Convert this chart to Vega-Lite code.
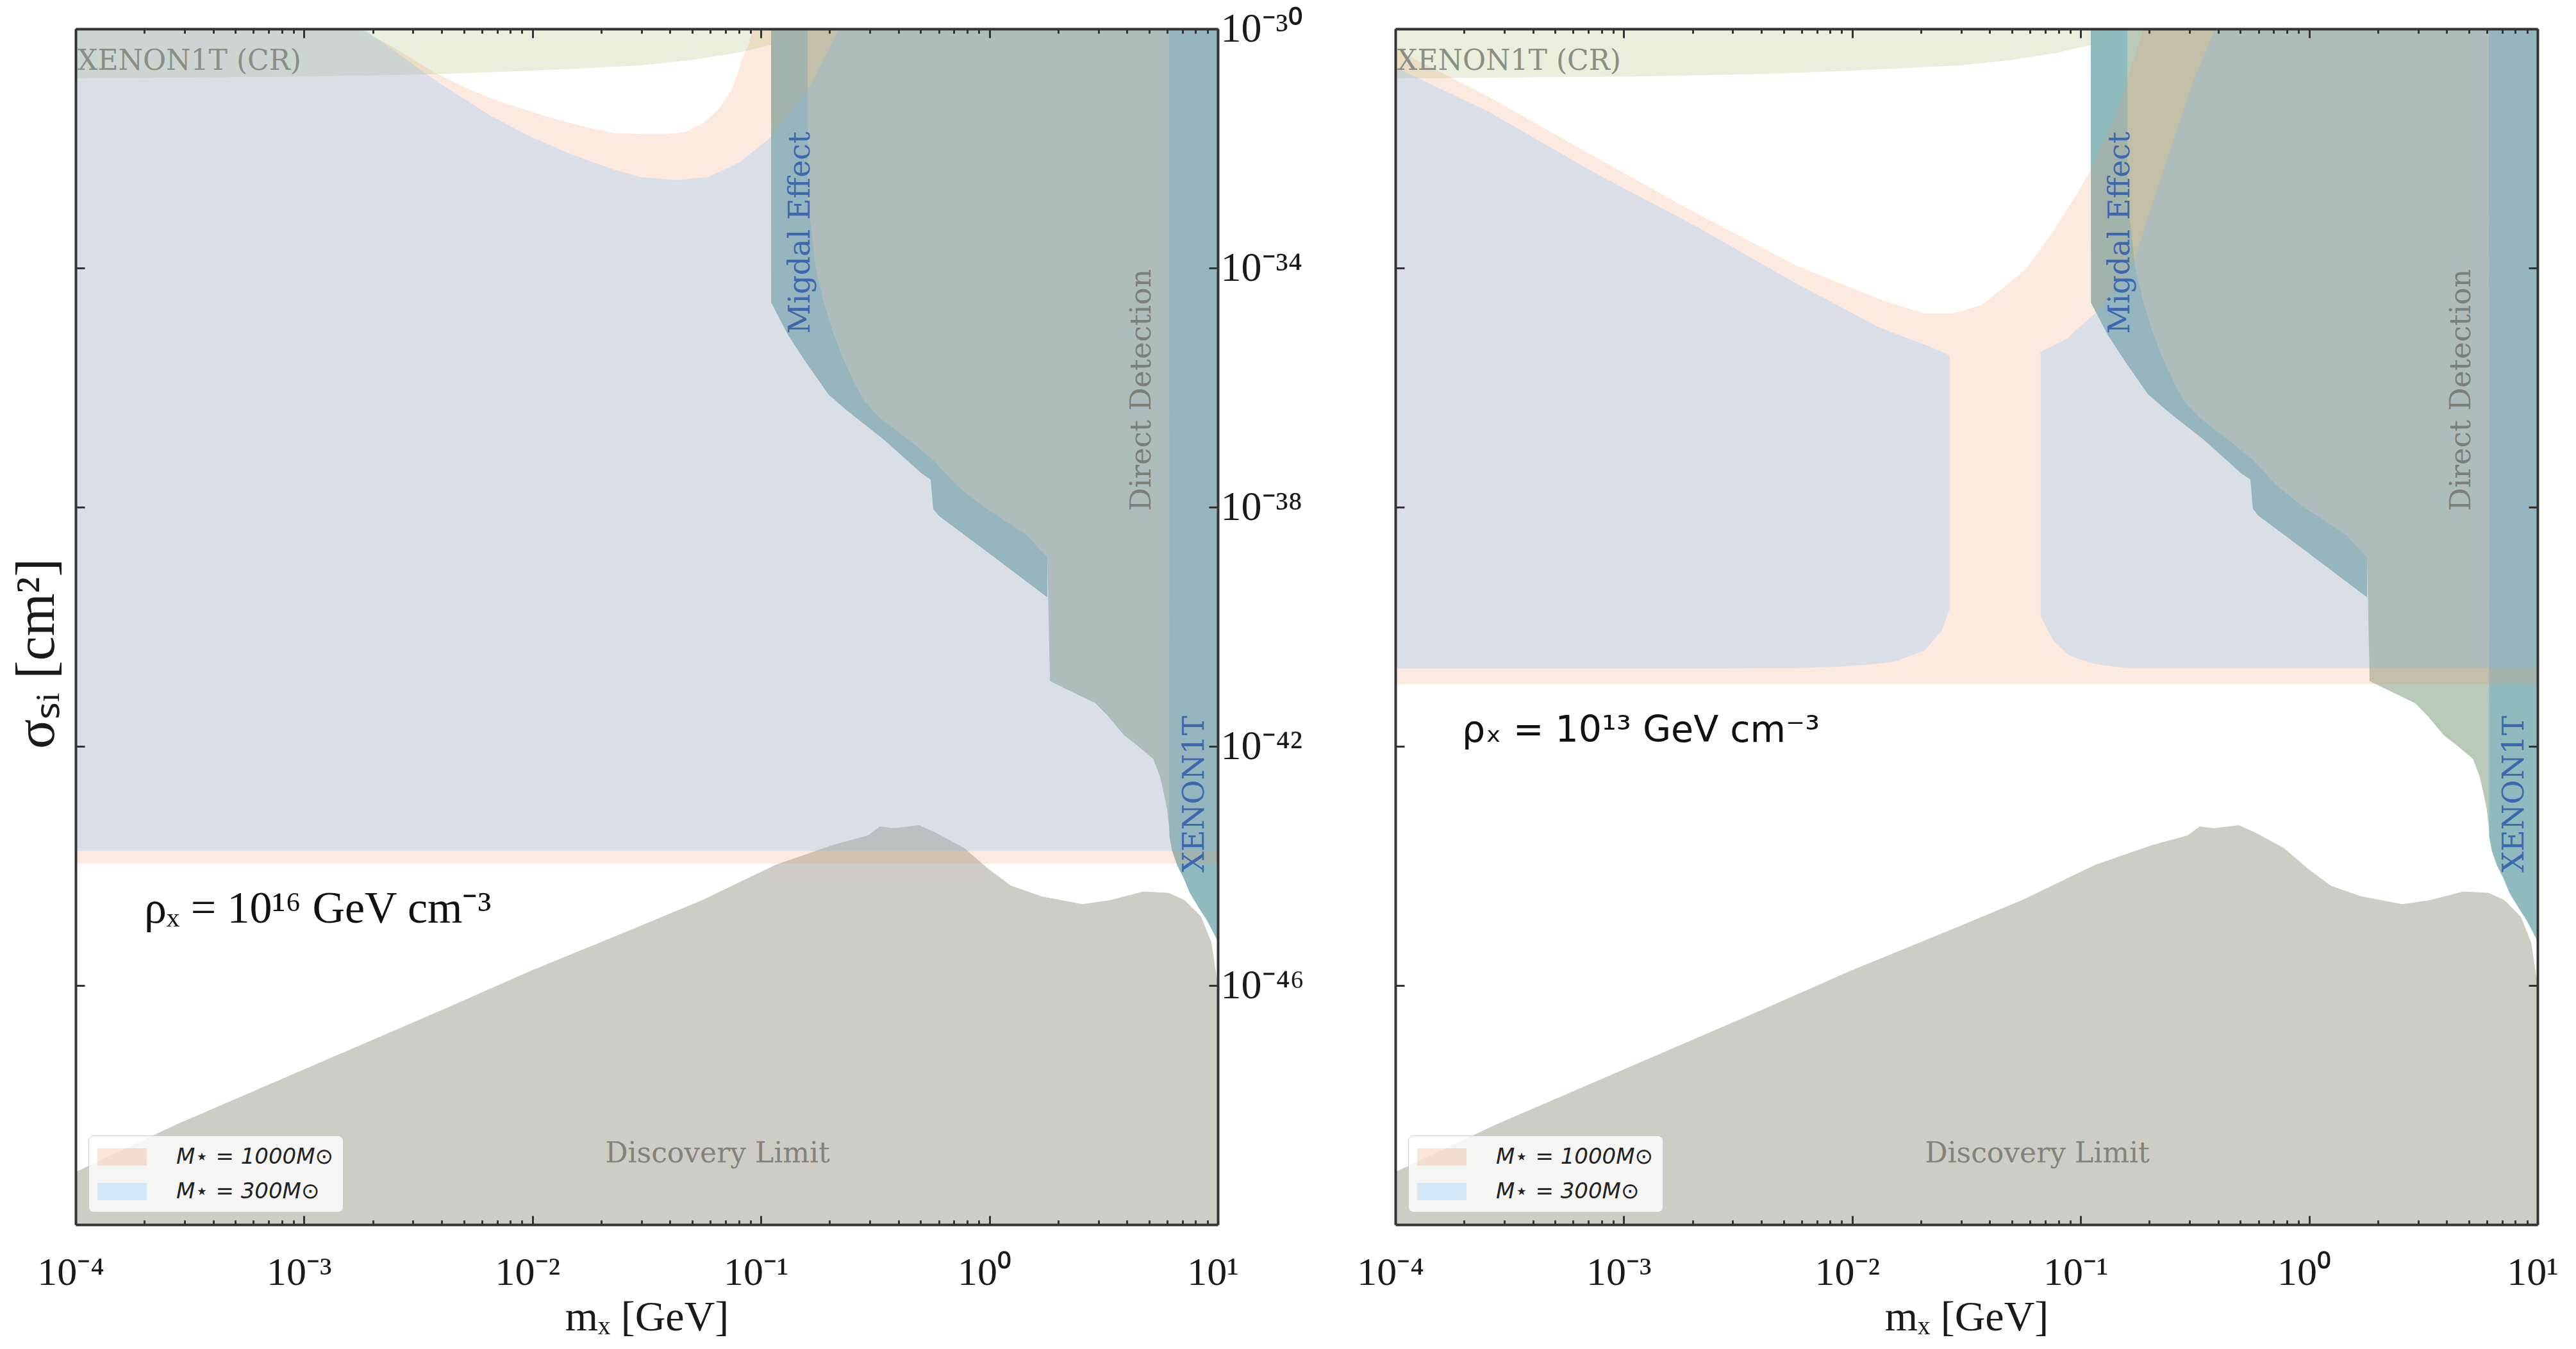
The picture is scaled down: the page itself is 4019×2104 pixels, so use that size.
{
  "$schema": "https://vega.github.io/schema/vega-lite/v6.json",
  "background": "white",
  "padding": {"left": 14, "top": 13, "right": 5, "bottom": 5},
  "bounds": "flush",
  "spacing": 277,
  "config": {
    "view": {"stroke": null},
    "axis": {"grid": false, "domainColor": "#333333", "domainWidth": 4, "tickColor": "#333333", "tickWidth": 3, "labelFont": "Liberation Serif", "labelFontSize": 62, "labelColor": "#1a1a1a", "titleFont": "Liberation Serif", "titleFontSize": 66, "titleFontWeight": "normal", "titleColor": "#1a1a1a", "labelFlush": false, "labelOverlap": false, "labelBound": false},
    "legend": {"orient": "bottom-left", "offset": 20, "padding": 14, "fillColor": "rgba(255,255,255,0.8)", "strokeColor": "#cccccc", "cornerRadius": 8, "labelFont": "DejaVu Sans", "labelFontSize": 34, "labelFontStyle": "italic", "labelColor": "#222222", "labelLimit": 500, "symbolType": "M-2,-0.7L2,-0.7L2,0.7L-2,0.7Z", "symbolSize": 1482, "symbolOffset": 19, "symbolStrokeWidth": 0, "symbolOpacity": 0.25, "rowPadding": 17, "labelOffset": 65}
  },
  "datasets": {
    "cr": [
      {"m": 0.0001, "top": 1e-30, "bottom": 1.479e-31},
      {"m": 0.001, "top": 1e-30, "bottom": 1.585e-31},
      {"m": 0.003681, "top": 1e-30, "bottom": 1.738e-31},
      {"m": 0.01, "top": 1e-30, "bottom": 1.995e-31},
      {"m": 0.02985, "top": 1e-30, "bottom": 2.455e-31},
      {"m": 0.0501, "top": 1e-30, "bottom": 3.02e-31},
      {"m": 0.07907, "top": 1e-30, "bottom": 3.98e-31},
      {"m": 0.1107, "top": 1e-30, "bottom": 5.37e-31},
      {"m": 0.1259, "top": 1e-30, "bottom": 6.03e-31}
    ],
    "discovery": [
      {"m": 0.0001, "top": 7.586e-50, "bottom": 1e-50},
      {"m": 0.0002742, "top": 4.677e-49, "bottom": 1e-50},
      {"m": 0.001549, "top": 8.128e-48, "bottom": 1e-50},
      {"m": 0.004355, "top": 4.467e-47, "bottom": 1e-50},
      {"m": 0.009886, "top": 1.778e-46, "bottom": 1e-50},
      {"m": 0.02985, "top": 1e-45, "bottom": 1e-50},
      {"m": 0.05546, "top": 2.692e-45, "bottom": 1e-50},
      {"m": 0.1159, "top": 1.047e-44, "bottom": 1e-50},
      {"m": 0.207, "top": 2.239e-44, "bottom": 1e-50},
      {"m": 0.2938, "top": 3.236e-44, "bottom": 1e-50},
      {"m": 0.3319, "top": 4.571e-44, "bottom": 1e-50},
      {"m": 0.3828, "top": 4.266e-44, "bottom": 1e-50},
      {"m": 0.492, "top": 4.786e-44, "bottom": 1e-50},
      {"m": 0.5794, "top": 3.631e-44, "bottom": 1e-50},
      {"m": 0.7745, "top": 1.995e-44, "bottom": 1e-50},
      {"m": 0.9908, "top": 8.913e-45, "bottom": 1e-50},
      {"m": 1.242, "top": 4.677e-45, "bottom": 1e-50},
      {"m": 1.69, "top": 3.09e-45, "bottom": 1e-50},
      {"m": 2.559, "top": 2.291e-45, "bottom": 1e-50},
      {"m": 3.396, "top": 2.692e-45, "bottom": 1e-50},
      {"m": 4.721, "top": 3.715e-45, "bottom": 1e-50},
      {"m": 6.081, "top": 3.548e-45, "bottom": 1e-50},
      {"m": 7.145, "top": 2.692e-45, "bottom": 1e-50},
      {"m": 8.453, "top": 1.413e-45, "bottom": 1e-50},
      {"m": 9.376, "top": 5.248e-46, "bottom": 1e-50},
      {"m": 9.863, "top": 1.479e-46, "bottom": 1e-50},
      {"m": 10, "top": 1.202e-46, "bottom": 1e-50}
    ],
    "migdal": [
      {"m": 0.1107, "top": 1e-30, "bottom": 1e-30},
      {"m": 0.1109, "top": 1e-30, "bottom": 2.63e-35},
      {"m": 0.1318, "top": 1e-30, "bottom": 7.413e-36},
      {"m": 0.157, "top": 1e-30, "bottom": 2.692e-36},
      {"m": 0.1968, "top": 1e-30, "bottom": 7.762e-37},
      {"m": 0.2388, "top": 1e-30, "bottom": 4.074e-37},
      {"m": 0.3475, "top": 1e-30, "bottom": 1.318e-37},
      {"m": 0.5023, "top": 1e-30, "bottom": 3.715e-38},
      {"m": 0.5534, "top": 1e-30, "bottom": 2.884e-38},
      {"m": 0.5675, "top": 1e-30, "bottom": 9.333e-39},
      {"m": 0.5984, "top": 1e-30, "bottom": 7.244e-39},
      {"m": 0.9333, "top": 1e-30, "bottom": 2.042e-39},
      {"m": 1.795, "top": 1e-30, "bottom": 3.09e-40}
    ],
    "dd": [
      {"m": 0.16, "top": 1e-30, "bottom": 1e-30},
      {"m": 0.1603, "top": 1e-30, "bottom": 1e-33},
      {"m": 0.1652, "top": 1e-30, "bottom": 5.37e-34},
      {"m": 0.173, "top": 1e-30, "bottom": 1.047e-34},
      {"m": 0.1871, "top": 1e-30, "bottom": 2.951e-35},
      {"m": 0.2061, "top": 1e-30, "bottom": 8.511e-36},
      {"m": 0.2286, "top": 1e-30, "bottom": 3.09e-36},
      {"m": 0.2582, "top": 1e-30, "bottom": 1.122e-36},
      {"m": 0.2844, "top": 1e-30, "bottom": 5.888e-37},
      {"m": 0.3304, "top": 1e-30, "bottom": 3.162e-37},
      {"m": 0.4446, "top": 1e-30, "bottom": 1.318e-37},
      {"m": 0.5675, "top": 1e-30, "bottom": 6.166e-38},
      {"m": 0.7261, "top": 1e-30, "bottom": 2.239e-38},
      {"m": 0.9333, "top": 1e-30, "bottom": 1.047e-38},
      {"m": 1.194, "top": 1e-30, "bottom": 5.623e-39},
      {"m": 1.459, "top": 1e-30, "bottom": 3.388e-39},
      {"m": 1.795, "top": 1e-30, "bottom": 1.413e-39},
      {"m": 1.841, "top": 1e-30, "bottom": 1.23e-41},
      {"m": 2.133, "top": 1e-30, "bottom": 9.333e-42},
      {"m": 2.541, "top": 1e-30, "bottom": 6.761e-42},
      {"m": 2.911, "top": 1e-30, "bottom": 5.248e-42},
      {"m": 3.334, "top": 1e-30, "bottom": 3.09e-42},
      {"m": 3.873, "top": 1e-30, "bottom": 1.549e-42},
      {"m": 4.487, "top": 1e-30, "bottom": 1e-42},
      {"m": 5.212, "top": 1e-30, "bottom": 6.166e-43},
      {"m": 5.585, "top": 1e-30, "bottom": 3.09e-43},
      {"m": 5.888, "top": 1e-30, "bottom": 1.259e-43},
      {"m": 5.998, "top": 1e-30, "bottom": 8.71e-44},
      {"m": 6.166, "top": 1e-30, "bottom": 3.467e-44}
    ],
    "xenon": [
      {"m": 6.124, "top": 1e-30, "bottom": 1e-30},
      {"m": 6.138, "top": 1e-30, "bottom": 3.162e-44},
      {"m": 6.31, "top": 1e-30, "bottom": 1.778e-44},
      {"m": 6.653, "top": 1e-30, "bottom": 1e-44},
      {"m": 7.079, "top": 1e-30, "bottom": 6.31e-45},
      {"m": 7.534, "top": 1e-30, "bottom": 3.548e-45},
      {"m": 8.318, "top": 1e-30, "bottom": 1.905e-45},
      {"m": 8.954, "top": 1e-30, "bottom": 1.23e-45},
      {"m": 10, "top": 1e-30, "bottom": 5.495e-46}
    ],
    "left_1000": [
      {"m": 0.0001, "top": 1e-30, "bottom": 1.096e-44},
      {"m": 0.00175, "top": 1e-30, "bottom": 1.096e-44},
      {"m": 0.002512, "top": 4.677e-31, "bottom": 1.096e-44},
      {"m": 0.003681, "top": 1.905e-31, "bottom": 1.096e-44},
      {"m": 0.005012, "top": 1.072e-31, "bottom": 1.096e-44},
      {"m": 0.006531, "top": 6.918e-32, "bottom": 1.096e-44},
      {"m": 0.008913, "top": 4.677e-32, "bottom": 1.096e-44},
      {"m": 0.01216, "top": 3.236e-32, "bottom": 1.096e-44},
      {"m": 0.0166, "top": 2.344e-32, "bottom": 1.096e-44},
      {"m": 0.02259, "top": 1.82e-32, "bottom": 1.096e-44},
      {"m": 0.02985, "top": 1.738e-32, "bottom": 1.096e-44},
      {"m": 0.03917, "top": 1.738e-32, "bottom": 1.096e-44},
      {"m": 0.04688, "top": 1.905e-32, "bottom": 1.096e-44},
      {"m": 0.05623, "top": 2.692e-32, "bottom": 1.096e-44},
      {"m": 0.06607, "top": 4.786e-32, "bottom": 1.096e-44},
      {"m": 0.07379, "top": 9.12e-32, "bottom": 1.096e-44},
      {"m": 0.07907, "top": 1.778e-31, "bottom": 1.096e-44},
      {"m": 0.08279, "top": 3.162e-31, "bottom": 1.096e-44},
      {"m": 0.08831, "top": 5.495e-31, "bottom": 1.096e-44},
      {"m": 0.09247, "top": 1e-30, "bottom": 1.096e-44},
      {"m": 10, "top": 1e-30, "bottom": 1.096e-44}
    ],
    "left_300": [
      {"m": 0.0001, "top": 1e-30, "bottom": 1.778e-44},
      {"m": 0.00182, "top": 1e-30, "bottom": 1.778e-44},
      {"m": 0.002512, "top": 4.169e-31, "bottom": 1.778e-44},
      {"m": 0.003681, "top": 1.445e-31, "bottom": 1.778e-44},
      {"m": 0.005012, "top": 6.761e-32, "bottom": 1.778e-44},
      {"m": 0.006531, "top": 3.548e-32, "bottom": 1.778e-44},
      {"m": 0.009886, "top": 1.549e-32, "bottom": 1.778e-44},
      {"m": 0.0138, "top": 8.913e-33, "bottom": 1.778e-44},
      {"m": 0.01837, "top": 5.888e-33, "bottom": 1.778e-44},
      {"m": 0.02259, "top": 4.467e-33, "bottom": 1.778e-44},
      {"m": 0.02985, "top": 3.311e-33, "bottom": 1.778e-44},
      {"m": 0.04285, "top": 2.951e-33, "bottom": 1.778e-44},
      {"m": 0.05875, "top": 3.311e-33, "bottom": 1.778e-44},
      {"m": 0.08072, "top": 5.888e-33, "bottom": 1.778e-44},
      {"m": 0.1107, "top": 1.549e-32, "bottom": 1.778e-44},
      {"m": 0.16, "top": 9.12e-32, "bottom": 1.778e-44},
      {"m": 0.2198, "top": 1e-30, "bottom": 1.778e-44},
      {"m": 10, "top": 1e-30, "bottom": 1.778e-44}
    ],
    "right_1000": [
      {"m": 0.0001, "top": 4.571e-31, "bottom": 1.096e-41},
      {"m": 0.000257, "top": 7.244e-32, "bottom": 1.096e-41},
      {"m": 0.0007228, "top": 7.762e-33, "bottom": 1.096e-41},
      {"m": 0.002018, "top": 8.71e-34, "bottom": 1.096e-41},
      {"m": 0.005689, "top": 1.096e-34, "bottom": 1.096e-41},
      {"m": 0.01291, "top": 3.09e-35, "bottom": 1.096e-41},
      {"m": 0.0166, "top": 2.239e-35, "bottom": 1.096e-41},
      {"m": 0.0207, "top": 1.738e-35, "bottom": 1.096e-41},
      {"m": 0.02754, "top": 1.738e-35, "bottom": 1.096e-41},
      {"m": 0.03681, "top": 2.399e-35, "bottom": 1.096e-41},
      {"m": 0.04732, "top": 5.129e-35, "bottom": 1.096e-41},
      {"m": 0.05754, "top": 9.55e-35, "bottom": 1.096e-41},
      {"m": 0.07211, "top": 3.09e-34, "bottom": 1.096e-41},
      {"m": 0.09528, "top": 1.622e-33, "bottom": 1.096e-41},
      {"m": 0.1096, "top": 4.169e-33, "bottom": 1.096e-41},
      {"m": 0.1422, "top": 3.548e-32, "bottom": 1.096e-41},
      {"m": 0.1888, "top": 1e-30, "bottom": 1.096e-41},
      {"m": 10, "top": 1e-30, "bottom": 1.096e-41}
    ],
    "right_300": [
      {"piece": "A", "m": 0.0001, "top": 2.291e-31, "bottom": 1.995e-41},
      {"piece": "A", "m": 0.000257, "top": 4.074e-32, "bottom": 1.995e-41},
      {"piece": "A", "m": 0.0007228, "top": 4.169e-33, "bottom": 1.995e-41},
      {"piece": "A", "m": 0.002018, "top": 5.248e-34, "bottom": 1.995e-41},
      {"piece": "A", "m": 0.005689, "top": 5.495e-35, "bottom": 2.042e-41},
      {"piece": "A", "m": 0.00871, "top": 2.344e-35, "bottom": 2.138e-41},
      {"piece": "A", "m": 0.01291, "top": 1.047e-35, "bottom": 2.399e-41},
      {"piece": "A", "m": 0.01549, "top": 7.943e-36, "bottom": 2.63e-41},
      {"piece": "A", "m": 0.0207, "top": 5.248e-36, "bottom": 3.981e-41},
      {"piece": "A", "m": 0.02466, "top": 3.981e-36, "bottom": 8.71e-41},
      {"piece": "A", "m": 0.02667, "top": 3.467e-36, "bottom": 1.95e-40},
      {"piece": "B", "m": 0.06668, "top": 3.981e-36, "bottom": 1.514e-40},
      {"piece": "B", "m": 0.07586, "top": 5.012e-36, "bottom": 5.888e-41},
      {"piece": "B", "m": 0.0875, "top": 6.607e-36, "bottom": 3.467e-41},
      {"piece": "B", "m": 0.09528, "top": 9.12e-36, "bottom": 3.02e-41},
      {"piece": "B", "m": 0.114, "top": 1.66e-35, "bottom": 2.399e-41},
      {"piece": "B", "m": 0.1422, "top": 4.571e-35, "bottom": 2.138e-41},
      {"piece": "B", "m": 0.1596, "top": 7.762e-35, "bottom": 2.042e-41},
      {"piece": "B", "m": 0.1738, "top": 1.549e-34, "bottom": 2.042e-41},
      {"piece": "B", "m": 0.2382, "top": 6.31e-33, "bottom": 2.042e-41},
      {"piece": "B", "m": 0.309, "top": 1.23e-31, "bottom": 2.042e-41},
      {"piece": "B", "m": 0.3873, "top": 1e-30, "bottom": 2.042e-41},
      {"piece": "B", "m": 10, "top": 1e-30, "bottom": 2.042e-41}
    ],
    "notes": [
      {"label": "XENON1T (CR)", "m": 0.000102, "sigma": 2.818e-31},
      {"label": "Migdal Effect", "m": 0.1493, "sigma": 3.89e-34},
      {"label": "Direct Detection", "m": 4.624, "sigma": 9.12e-37},
      {"label": "XENON1T", "m": 7.943, "sigma": 1.585e-43},
      {"label": "Discovery Limit", "m": 0.06457, "sigma": 1.514e-49}
    ],
    "rho_left": [{"label": "ρₓ = 10¹⁶ GeV cm⁻³", "m": 0.0001995, "sigma": 1.905e-45}],
    "rho_right": [{"label": "ρₓ = 10¹³ GeV cm⁻³", "m": 0.0001959, "sigma": 1.82e-42}]
  },
  "hconcat": [
    {
      "width": 1782,
      "height": 1865,
      "resolve": {"axis": {"x": "independent", "y": "independent"}},
      "layer": [
        {
          "data": {"name": "cr"},
          "mark": {"type": "area", "color": "#e9efdc"},
          "encoding": {
            "x": {"field": "m", "type": "quantitative", "scale": {"type": "log", "domain": [0.0001, 10], "nice": false},
              "axis": {"orient": "bottom", "zindex": 1, "values": [0.0001,0.0002,0.0003,0.0004,0.0005,0.0006,0.0007,0.0008,0.0009,0.001,0.002,0.003,0.004,0.005,0.006,0.007,0.008,0.009,0.01,0.02,0.03,0.04,0.05,0.06,0.07,0.08,0.09,0.1,0.2,0.3,0.4,0.5,0.6,0.7,0.8,0.9,1,2,3,4,5,6,7,8,9,10],
                "labelExpr": "datum.value == 0.0001 ? '10⁻⁴' : datum.value == 0.001 ? '10⁻³' : datum.value == 0.01 ? '10⁻²' : datum.value == 0.1 ? '10⁻¹' : datum.value == 1 ? '10⁰' : datum.value == 10 ? '10¹' : ''",
                "tickSize": {"condition": {"test": "indexof([0.0001,0.001,0.01,0.1,1,10], datum.value) >= 0", "value": -14}, "value": -7},
                "labelPadding": 58, "labelOffset": -8, "title": "mₓ [GeV]", "titlePadding": 0}},
            "y": {"field": "top", "type": "quantitative", "scale": {"type": "log", "domain": [1e-50, 1e-30], "nice": false},
              "axis": {"orient": "left", "zindex": 1, "values": [1e-30, 1e-34, 1e-38, 1e-42, 1e-46], "tickSize": -14, "labels": false, "title": "σₛᵢ [cm²]", "titleFontSize": 86, "titlePadding": 15, "titleY": 974}},
            "y2": {"field": "bottom"}
          }
        },
        {
          "data": {"name": "discovery"},
          "mark": {"type": "area", "color": "#cdcdc5"},
          "encoding": {
            "x": {"field": "m", "type": "quantitative", "scale": {"type": "log", "domain": [0.0001, 10], "nice": false},
              "axis": {"orient": "top", "zindex": 1, "values": [0.0001,0.0002,0.0003,0.0004,0.0005,0.0006,0.0007,0.0008,0.0009,0.001,0.002,0.003,0.004,0.005,0.006,0.007,0.008,0.009,0.01,0.02,0.03,0.04,0.05,0.06,0.07,0.08,0.09,0.1,0.2,0.3,0.4,0.5,0.6,0.7,0.8,0.9,1,2,3,4,5,6,7,8,9,10],
                "labels": false,
                "tickSize": {"condition": {"test": "indexof([0.0001,0.001,0.01,0.1,1,10], datum.value) >= 0", "value": -14}, "value": -7},
                "title": null}},
            "y": {"field": "top", "type": "quantitative", "scale": {"type": "log", "domain": [1e-50, 1e-30], "nice": false},
              "axis": {"orient": "right", "zindex": 1, "values": [1e-30, 1e-34, 1e-38, 1e-42, 1e-46], "tickSize": -14, "labelPadding": 18, "labelFontSize": 64,
                "labelExpr": "datum.value == 1e-30 ? '10⁻³⁰' : datum.value == 1e-34 ? '10⁻³⁴' : datum.value == 1e-38 ? '10⁻³⁸' : datum.value == 1e-42 ? '10⁻⁴²' : '10⁻⁴⁶'",
                "title": null}},
            "y2": {"field": "bottom"}
          }
        },
        {
          "data": {"name": "migdal"},
          "mark": {"type": "area", "color": "#8fbbbf"},
          "encoding": {
            "x": {"field": "m", "type": "quantitative", "scale": {"type": "log", "domain": [0.0001, 10], "nice": false}, "axis": null},
            "y": {"field": "top", "type": "quantitative", "scale": {"type": "log", "domain": [1e-50, 1e-30], "nice": false}, "axis": null},
            "y2": {"field": "bottom"}
          }
        },
        {
          "data": {"name": "dd"},
          "mark": {"type": "area", "color": "#b8c9b8"},
          "encoding": {
            "x": {"field": "m", "type": "quantitative", "scale": {"type": "log", "domain": [0.0001, 10], "nice": false}, "axis": null},
            "y": {"field": "top", "type": "quantitative", "scale": {"type": "log", "domain": [1e-50, 1e-30], "nice": false}, "axis": null},
            "y2": {"field": "bottom"}
          }
        },
        {
          "data": {"name": "xenon"},
          "mark": {"type": "area", "color": "#8fbbbf"},
          "encoding": {
            "x": {"field": "m", "type": "quantitative", "scale": {"type": "log", "domain": [0.0001, 10], "nice": false}, "axis": null},
            "y": {"field": "top", "type": "quantitative", "scale": {"type": "log", "domain": [1e-50, 1e-30], "nice": false}, "axis": null},
            "y2": {"field": "bottom"}
          }
        },
        {
          "data": {"name": "left_1000"},
          "mark": {"type": "area", "opacity": 0.2},
          "encoding": {
            "x": {"field": "m", "type": "quantitative", "scale": {"type": "log", "domain": [0.0001, 10], "nice": false}, "axis": null},
            "y": {"field": "top", "type": "quantitative", "scale": {"type": "log", "domain": [1e-50, 1e-30], "nice": false}, "axis": null},
            "y2": {"field": "bottom"},
            "color": {"datum": "M⋆ = 1000M⊙", "type": "nominal", "scale": {"domain": ["M⋆ = 1000M⊙", "M⋆ = 300M⊙"], "range": ["#f09664", "#6bbeff"]}, "legend": {"title": null}}
          }
        },
        {
          "data": {"name": "left_300"},
          "mark": {"type": "area", "opacity": 0.228},
          "encoding": {
            "x": {"field": "m", "type": "quantitative", "scale": {"type": "log", "domain": [0.0001, 10], "nice": false}, "axis": null},
            "y": {"field": "top", "type": "quantitative", "scale": {"type": "log", "domain": [1e-50, 1e-30], "nice": false}, "axis": null},
            "y2": {"field": "bottom"},
            "color": {"datum": "M⋆ = 300M⊙", "type": "nominal"}
          }
        },
        {
          "data": {"name": "notes"},
          "transform": [{"filter": "datum.label == 'XENON1T (CR)'"}],
          "mark": {"type": "text", "font": "DejaVu Serif", "fontSize": 44, "color": "#8a8f84", "align": "left", "baseline": "middle"},
          "encoding": {
            "x": {"field": "m", "type": "quantitative", "scale": {"type": "log", "domain": [0.0001, 10], "nice": false}, "axis": null},
            "y": {"field": "sigma", "type": "quantitative", "scale": {"type": "log", "domain": [1e-50, 1e-30], "nice": false}, "axis": null},
            "text": {"field": "label"}
          }
        },
        {
          "data": {"name": "notes"},
          "transform": [{"filter": "datum.label == 'Discovery Limit'"}],
          "mark": {"type": "text", "font": "DejaVu Serif", "fontSize": 44, "color": "#83837b", "align": "center", "baseline": "middle"},
          "encoding": {
            "x": {"field": "m", "type": "quantitative", "scale": {"type": "log", "domain": [0.0001, 10], "nice": false}, "axis": null},
            "y": {"field": "sigma", "type": "quantitative", "scale": {"type": "log", "domain": [1e-50, 1e-30], "nice": false}, "axis": null},
            "text": {"field": "label"}
          }
        },
        {
          "data": {"name": "notes"},
          "transform": [{"filter": "datum.label == 'Direct Detection'"}],
          "mark": {"type": "text", "font": "DejaVu Serif", "fontSize": 45, "color": "#7b7f7a", "align": "center", "baseline": "middle", "angle": 270},
          "encoding": {
            "x": {"field": "m", "type": "quantitative", "scale": {"type": "log", "domain": [0.0001, 10], "nice": false}, "axis": null},
            "y": {"field": "sigma", "type": "quantitative", "scale": {"type": "log", "domain": [1e-50, 1e-30], "nice": false}, "axis": null},
            "text": {"field": "label"}
          }
        },
        {
          "data": {"name": "notes"},
          "transform": [{"filter": "datum.label == 'Migdal Effect' || datum.label == 'XENON1T'"}],
          "mark": {"type": "text", "font": "DejaVu Serif", "fontSize": 46, "color": "#3d68b0", "align": "center", "baseline": "middle", "angle": 270},
          "encoding": {
            "x": {"field": "m", "type": "quantitative", "scale": {"type": "log", "domain": [0.0001, 10], "nice": false}, "axis": null},
            "y": {"field": "sigma", "type": "quantitative", "scale": {"type": "log", "domain": [1e-50, 1e-30], "nice": false}, "axis": null},
            "text": {"field": "label"}
          }
        },
        {
          "data": {"name": "rho_left"},
          "mark": {"type": "text", "font": "Liberation Serif", "fontSize": 70, "color": "#111111", "align": "left", "baseline": "middle"},
          "encoding": {
            "x": {"field": "m", "type": "quantitative", "scale": {"type": "log", "domain": [0.0001, 10], "nice": false}, "axis": null},
            "y": {"field": "sigma", "type": "quantitative", "scale": {"type": "log", "domain": [1e-50, 1e-30], "nice": false}, "axis": null},
            "text": {"field": "label"}
          }
        }
      ]
    },
    {
      "width": 1782,
      "height": 1865,
      "resolve": {"axis": {"x": "independent", "y": "independent"}},
      "layer": [
        {
          "data": {"name": "cr"},
          "mark": {"type": "area", "color": "#e9efdc"},
          "encoding": {
            "x": {"field": "m", "type": "quantitative", "scale": {"type": "log", "domain": [0.0001, 10], "nice": false},
              "axis": {"orient": "bottom", "zindex": 1, "values": [0.0001,0.0002,0.0003,0.0004,0.0005,0.0006,0.0007,0.0008,0.0009,0.001,0.002,0.003,0.004,0.005,0.006,0.007,0.008,0.009,0.01,0.02,0.03,0.04,0.05,0.06,0.07,0.08,0.09,0.1,0.2,0.3,0.4,0.5,0.6,0.7,0.8,0.9,1,2,3,4,5,6,7,8,9,10],
                "labelExpr": "datum.value == 0.0001 ? '10⁻⁴' : datum.value == 0.001 ? '10⁻³' : datum.value == 0.01 ? '10⁻²' : datum.value == 0.1 ? '10⁻¹' : datum.value == 1 ? '10⁰' : datum.value == 10 ? '10¹' : ''",
                "tickSize": {"condition": {"test": "indexof([0.0001,0.001,0.01,0.1,1,10], datum.value) >= 0", "value": -14}, "value": -7},
                "labelPadding": 58, "labelOffset": -8, "title": "mₓ [GeV]", "titlePadding": 0}},
            "y": {"field": "top", "type": "quantitative", "scale": {"type": "log", "domain": [1e-50, 1e-30], "nice": false},
              "axis": {"orient": "left", "zindex": 1, "values": [1e-30, 1e-34, 1e-38, 1e-42, 1e-46], "tickSize": -14, "labels": false, "title": null}},
            "y2": {"field": "bottom"}
          }
        },
        {
          "data": {"name": "discovery"},
          "mark": {"type": "area", "color": "#cdcdc5"},
          "encoding": {
            "x": {"field": "m", "type": "quantitative", "scale": {"type": "log", "domain": [0.0001, 10], "nice": false},
              "axis": {"orient": "top", "zindex": 1, "values": [0.0001,0.0002,0.0003,0.0004,0.0005,0.0006,0.0007,0.0008,0.0009,0.001,0.002,0.003,0.004,0.005,0.006,0.007,0.008,0.009,0.01,0.02,0.03,0.04,0.05,0.06,0.07,0.08,0.09,0.1,0.2,0.3,0.4,0.5,0.6,0.7,0.8,0.9,1,2,3,4,5,6,7,8,9,10],
                "labels": false,
                "tickSize": {"condition": {"test": "indexof([0.0001,0.001,0.01,0.1,1,10], datum.value) >= 0", "value": -14}, "value": -7},
                "title": null}},
            "y": {"field": "top", "type": "quantitative", "scale": {"type": "log", "domain": [1e-50, 1e-30], "nice": false},
              "axis": {"orient": "right", "zindex": 1, "values": [1e-30, 1e-34, 1e-38, 1e-42, 1e-46], "tickSize": -14, "labels": false, "title": null}},
            "y2": {"field": "bottom"}
          }
        },
        {
          "data": {"name": "migdal"},
          "mark": {"type": "area", "color": "#8fbbbf"},
          "encoding": {
            "x": {"field": "m", "type": "quantitative", "scale": {"type": "log", "domain": [0.0001, 10], "nice": false}, "axis": null},
            "y": {"field": "top", "type": "quantitative", "scale": {"type": "log", "domain": [1e-50, 1e-30], "nice": false}, "axis": null},
            "y2": {"field": "bottom"}
          }
        },
        {
          "data": {"name": "dd"},
          "mark": {"type": "area", "color": "#b8c9b8"},
          "encoding": {
            "x": {"field": "m", "type": "quantitative", "scale": {"type": "log", "domain": [0.0001, 10], "nice": false}, "axis": null},
            "y": {"field": "top", "type": "quantitative", "scale": {"type": "log", "domain": [1e-50, 1e-30], "nice": false}, "axis": null},
            "y2": {"field": "bottom"}
          }
        },
        {
          "data": {"name": "xenon"},
          "mark": {"type": "area", "color": "#8fbbbf"},
          "encoding": {
            "x": {"field": "m", "type": "quantitative", "scale": {"type": "log", "domain": [0.0001, 10], "nice": false}, "axis": null},
            "y": {"field": "top", "type": "quantitative", "scale": {"type": "log", "domain": [1e-50, 1e-30], "nice": false}, "axis": null},
            "y2": {"field": "bottom"}
          }
        },
        {
          "data": {"name": "right_1000"},
          "mark": {"type": "area", "opacity": 0.2},
          "encoding": {
            "x": {"field": "m", "type": "quantitative", "scale": {"type": "log", "domain": [0.0001, 10], "nice": false}, "axis": null},
            "y": {"field": "top", "type": "quantitative", "scale": {"type": "log", "domain": [1e-50, 1e-30], "nice": false}, "axis": null},
            "y2": {"field": "bottom"},
            "color": {"datum": "M⋆ = 1000M⊙", "type": "nominal", "scale": {"domain": ["M⋆ = 1000M⊙", "M⋆ = 300M⊙"], "range": ["#f09664", "#6bbeff"]}, "legend": {"title": null}}
          }
        },
        {
          "data": {"name": "right_300"},
          "mark": {"type": "area", "opacity": 0.228},
          "encoding": {
            "x": {"field": "m", "type": "quantitative", "scale": {"type": "log", "domain": [0.0001, 10], "nice": false}, "axis": null},
            "y": {"field": "top", "type": "quantitative", "scale": {"type": "log", "domain": [1e-50, 1e-30], "nice": false}, "axis": null},
            "y2": {"field": "bottom"},
            "detail": {"field": "piece", "type": "nominal"},
            "color": {"datum": "M⋆ = 300M⊙", "type": "nominal"}
          }
        },
        {
          "data": {"name": "notes"},
          "transform": [{"filter": "datum.label == 'XENON1T (CR)'"}],
          "mark": {"type": "text", "font": "DejaVu Serif", "fontSize": 44, "color": "#8a8f84", "align": "left", "baseline": "middle"},
          "encoding": {
            "x": {"field": "m", "type": "quantitative", "scale": {"type": "log", "domain": [0.0001, 10], "nice": false}, "axis": null},
            "y": {"field": "sigma", "type": "quantitative", "scale": {"type": "log", "domain": [1e-50, 1e-30], "nice": false}, "axis": null},
            "text": {"field": "label"}
          }
        },
        {
          "data": {"name": "notes"},
          "transform": [{"filter": "datum.label == 'Discovery Limit'"}],
          "mark": {"type": "text", "font": "DejaVu Serif", "fontSize": 44, "color": "#83837b", "align": "center", "baseline": "middle"},
          "encoding": {
            "x": {"field": "m", "type": "quantitative", "scale": {"type": "log", "domain": [0.0001, 10], "nice": false}, "axis": null},
            "y": {"field": "sigma", "type": "quantitative", "scale": {"type": "log", "domain": [1e-50, 1e-30], "nice": false}, "axis": null},
            "text": {"field": "label"}
          }
        },
        {
          "data": {"name": "notes"},
          "transform": [{"filter": "datum.label == 'Direct Detection'"}],
          "mark": {"type": "text", "font": "DejaVu Serif", "fontSize": 45, "color": "#7b7f7a", "align": "center", "baseline": "middle", "angle": 270},
          "encoding": {
            "x": {"field": "m", "type": "quantitative", "scale": {"type": "log", "domain": [0.0001, 10], "nice": false}, "axis": null},
            "y": {"field": "sigma", "type": "quantitative", "scale": {"type": "log", "domain": [1e-50, 1e-30], "nice": false}, "axis": null},
            "text": {"field": "label"}
          }
        },
        {
          "data": {"name": "notes"},
          "transform": [{"filter": "datum.label == 'Migdal Effect' || datum.label == 'XENON1T'"}],
          "mark": {"type": "text", "font": "DejaVu Serif", "fontSize": 46, "color": "#3d68b0", "align": "center", "baseline": "middle", "angle": 270},
          "encoding": {
            "x": {"field": "m", "type": "quantitative", "scale": {"type": "log", "domain": [0.0001, 10], "nice": false}, "axis": null},
            "y": {"field": "sigma", "type": "quantitative", "scale": {"type": "log", "domain": [1e-50, 1e-30], "nice": false}, "axis": null},
            "text": {"field": "label"}
          }
        },
        {
          "data": {"name": "rho_right"},
          "mark": {"type": "text", "font": "DejaVu Sans", "fontSize": 57, "color": "#111111", "align": "left", "baseline": "middle"},
          "encoding": {
            "x": {"field": "m", "type": "quantitative", "scale": {"type": "log", "domain": [0.0001, 10], "nice": false}, "axis": null},
            "y": {"field": "sigma", "type": "quantitative", "scale": {"type": "log", "domain": [1e-50, 1e-30], "nice": false}, "axis": null},
            "text": {"field": "label"}
          }
        }
      ]
    }
  ],
  "resolve": {"scale": {"color": "independent"}, "legend": {"color": "independent"}}
}
